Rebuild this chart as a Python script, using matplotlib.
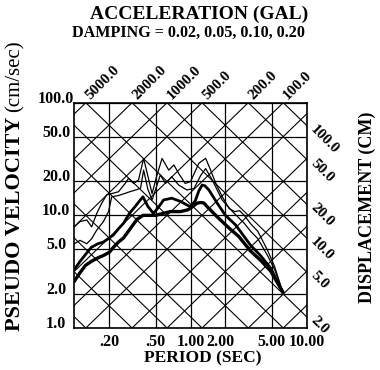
import matplotlib
matplotlib.use('Agg')
import matplotlib.pyplot as plt
import numpy as np
from matplotlib.ticker import NullLocator
from matplotlib.transforms import offset_copy, ScaledTranslation

# Tripartite response spectrum (pseudo velocity vs period)

# damping 0.02 (thin, top)
period_002 = [0.10, 0.112, 0.128, 0.141, 0.156, 0.172, 0.19, 0.21, 0.24, 0.274, 0.293, 0.324, 0.357,
              0.395, 0.467, 0.51, 0.569, 0.65, 0.72, 0.79, 0.90, 1.0, 1.18, 1.35, 1.49, 1.65, 1.88,
              2.15, 2.4, 2.65, 2.9, 3.3, 3.8, 4.6, 5.3, 6.2]
vel_002 = [7.9, 8.8, 9.1, 7.9, 10.4, 12.8, 15.2, 15.6, 16.2, 19.2, 21.3, 19.2, 20.6,
           32.0, 15.6, 22.0, 32.0, 25.2, 28.0, 23.6, 19.2, 19.9, 29.0, 32.1, 25.2, 19.2, 14.6,
           11.5, 10.8, 11.0, 10.0, 8.4, 7.2, 4.9, 3.5, 2.1]

# damping 0.05 (thin)
period_005 = [0.10, 0.112, 0.128, 0.141, 0.156, 0.178, 0.197, 0.21, 0.24, 0.27, 0.30, 0.35, 0.372,
              0.395, 0.43, 0.467, 0.55, 0.61, 0.69, 0.79, 0.93, 1.07, 1.23, 1.35, 1.54, 1.87, 2.3,
              2.9, 3.3, 3.8, 4.6, 5.3, 6.2]
vel_005 = [5.6, 6.0, 5.6, 6.2, 7.4, 8.8, 10.8, 14.6, 15.0, 15.6, 16.2, 17.0, 17.5,
           25.2, 17.0, 13.7, 22.8, 19.2, 22.0, 18.6, 16.8, 17.3, 22.8, 26.0, 20.6, 13.7, 10.8,
           8.5, 7.2, 6.2, 4.4, 3.3, 2.1]

# damping 0.10 (thick)
period_010 = [0.10, 0.112, 0.125, 0.14, 0.16, 0.178, 0.20, 0.217, 0.24, 0.265, 0.30, 0.33, 0.37,
              0.39, 0.43, 0.48, 0.53, 0.587, 0.69, 0.818, 0.90, 1.0, 1.1, 1.18, 1.26, 1.33, 1.44,
              1.7, 2.0, 2.45, 3.3, 4.0, 4.9, 6.2]
vel_010 = [3.3, 3.9, 4.5, 5.2, 5.6, 5.8, 6.3, 6.7, 7.6, 8.5, 10.5, 11.8, 13.7,
           14.6, 12.0, 10.4, 11.8, 13.7, 14.2, 13.3, 12.6, 11.9, 13.5, 16.5, 18.6, 18.3, 16.8,
           12.8, 10.0, 8.2, 5.4, 4.4, 3.4, 2.1]

# damping 0.20 (thickest)
period_020 = [0.10, 0.112, 0.125, 0.14, 0.16, 0.178, 0.20, 0.217, 0.24, 0.265, 0.30, 0.346, 0.39,
              0.45, 0.50, 0.58, 0.67, 0.82, 0.95, 1.05, 1.13, 1.22, 1.30, 1.44, 1.75, 2.15, 2.6,
              3.3, 4.0, 4.9, 6.2]
vel_020 = [2.6, 3.1, 3.6, 3.9, 4.2, 4.4, 4.7, 5.2, 5.8, 6.3, 7.5, 9.2, 10.0,
           10.0, 10.0, 10.4, 10.8, 10.8, 11.2, 12.0, 12.8, 13.0, 12.9, 11.5, 9.4, 7.7, 6.5,
           4.8, 4.0, 3.2, 2.1]

period_ticks = [0.2, 0.5, 1.0, 2.0, 5.0, 10.0]
period_labels = ['.20', '.50', '1.00', '2.00', '5.00', '10.00']
vel_ticks = [1, 2, 5, 10, 20, 50, 100]
vel_labels = ['1.0', '2.0', '5.0', '10.0', '20.0', '50.0', '100.0']

# diagonal grid families
acc_lines = [1, 2, 5, 10, 20, 50, 100, 200, 500, 1000, 2000, 5000, 10000, 20000, 50000]
disp_lines = [0.01, 0.02, 0.05, 0.1, 0.2, 0.5, 1, 2, 5, 10, 20, 50, 100, 200, 500, 1000]
acc_labels = [5000, 2000, 1000, 500, 200, 100]
disp_labels = [100, 50, 20, 10, 5, 2]

plt.rcParams['font.family'] = 'Liberation Serif'
plt.rcParams['font.weight'] = 'bold'

W, H = 380, 370
fig = plt.figure(figsize=(3.8, 3.7), dpi=100)
x0, x1, y0, y1 = 74.3, 306.7, 102.7, 328.0
ax = fig.add_axes([x0 / W, 1 - y1 / H, (x1 - x0) / W, (y1 - y0) / H])
ax.set_xscale('log')
ax.set_yscale('log')
ax.set_xlim(0.1, 10)
ax.set_ylim(1, 100)

t = np.array([0.01, 100.0])
for a in acc_lines:
    ax.plot(t, a * t / (2 * np.pi), color='k', lw=0.8, zorder=1)
for d in disp_lines:
    ax.plot(t, 2 * np.pi * d / t, color='k', lw=0.8, zorder=1)

ax.plot(period_002, vel_002, color='k', lw=0.9, zorder=3)
ax.plot(period_005, vel_005, color='k', lw=0.9, zorder=3)
ax.plot(period_010, vel_010, color='k', lw=2.0, zorder=3)
ax.plot(period_020, vel_020, color='k', lw=2.4, zorder=3)

ax.set_xticks(period_ticks, labels=period_labels)
ax.set_yticks(vel_ticks, labels=vel_labels)
ax.xaxis.set_minor_locator(NullLocator())
ax.yaxis.set_minor_locator(NullLocator())
ax.tick_params(axis='both', length=0, labelsize=11.5)
ax.tick_params(axis='x', pad=4)
ax.tick_params(axis='y', pad=13)
for lab in ax.get_yticklabels():
    lab.set_ha('center')
    lab.set_va('baseline')
# "2.00" sits a little to the left in the original
xl = ax.get_xticklabels()
xl[3].set_transform(xl[3].get_transform() + ScaledTranslation(-0.05, 0, fig.dpi_scale_trans))
ax.grid(True, color='k', lw=0.9)
for s in ax.spines.values():
    s.set_linewidth(1.2)

# acceleration labels on top, displacement labels on right
top_tr = offset_copy(ax.transData, fig=fig, x=3.5, y=2, units='points')
for a in acc_labels:
    ax.text(2 * np.pi * 100 / a, 100, f'{a:.1f}', rotation=45, rotation_mode='anchor',
            ha='left', va='baseline', fontsize=11, transform=top_tr, clip_on=False)
right_tr = offset_copy(ax.transData, fig=fig, x=2.5, y=-3, units='points')
for d in disp_labels:
    ax.text(10, 2 * np.pi * d / 10, f'{d:.1f}', rotation=-45, rotation_mode='anchor',
            ha='left', va='baseline', fontsize=11, transform=right_tr, clip_on=False)

def px(x, y):
    return x / W, 1 - y / H

fig.text(*px(199, 14), 'ACCELERATION (GAL)', ha='center', va='center', fontsize=14)
fig.text(*px(188.5, 33), 'DAMPING = 0.02, 0.05, 0.10, 0.20', ha='center', va='center', fontsize=11.6)
fig.text(*px(203, 358), 'PERIOD (SEC)', ha='center', va='center', fontsize=12.5)
fig.text(*px(367, 207), 'DISPLACEMENT (CM)', ha='center', va='center', rotation=90, fontsize=13)

# y label: bold part then regular units above it
yl1 = fig.text(*px(15, 331), 'PSEUDO VELOCITY ', ha='center', va='bottom', rotation=90, fontsize=16)
fig.canvas.draw()
bb = yl1.get_window_extent(fig.canvas.get_renderer())
fig.text(15 / W, bb.y1 / H, '(cm/sec)', ha='center', va='bottom', rotation=90, fontsize=15,
         fontweight='normal')

fig.savefig('out.png', dpi=100)
